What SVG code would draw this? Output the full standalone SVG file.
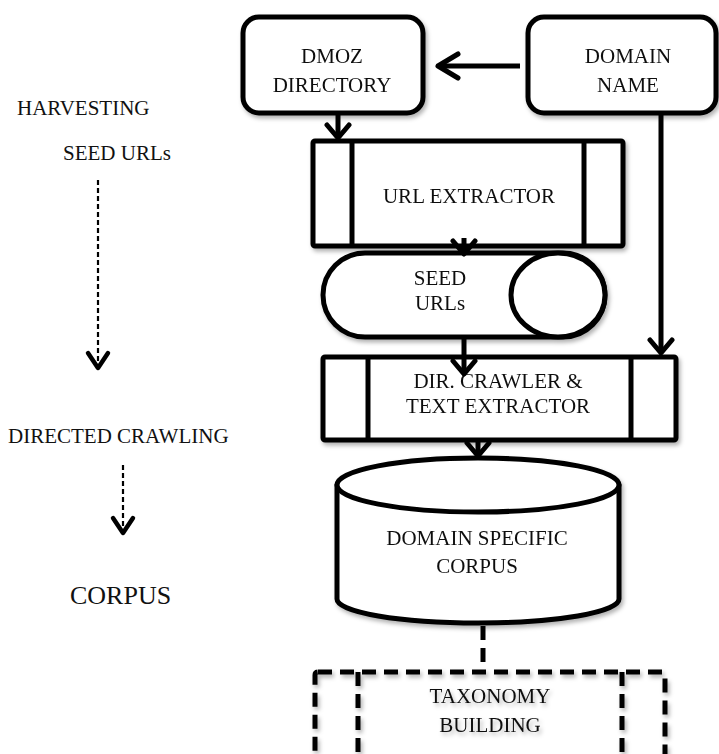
<svg xmlns="http://www.w3.org/2000/svg" width="719" height="754" viewBox="0 0 719 754" font-family="'Liberation Serif', 'DejaVu Serif', serif">
<defs>
<filter id="sh" x="-10%" y="-10%" width="120%" height="130%">
<feDropShadow dx="2" dy="3" stdDeviation="2" flood-color="#000" flood-opacity="0.3"/>
</filter>
<marker id="ah" markerUnits="userSpaceOnUse" viewBox="-20 -14 24 28" markerWidth="24" markerHeight="28" refX="0" refY="0" orient="auto">
<path d="M-13,-11 L0,0 L-13,11" fill="none" stroke="#000" stroke-width="5" stroke-linecap="round" stroke-linejoin="round"/>
</marker>
<marker id="ahb" markerUnits="userSpaceOnUse" viewBox="-26 -16 30 32" markerWidth="30" markerHeight="32" refX="0" refY="0" orient="auto">
<path d="M-20,-12 L0,0 L-20,12" fill="none" stroke="#000" stroke-width="5" stroke-linecap="round" stroke-linejoin="round"/>
</marker>
<marker id="ahs" markerUnits="userSpaceOnUse" viewBox="-20 -14 24 28" markerWidth="24" markerHeight="28" refX="0" refY="0" orient="auto">
<path d="M-15,-10 L0,0 L-15,10" fill="none" stroke="#000" stroke-width="4.5" stroke-linecap="round" stroke-linejoin="round"/>
</marker>
</defs>
<style>
text{font-family:'Liberation Serif','DejaVu Serif',serif;fill:#111;font-size:21px;text-anchor:middle}
.l{text-anchor:start}
.box{fill:#fff;stroke:#000;stroke-width:5;stroke-linejoin:round}
.ln{fill:none;stroke:#000;stroke-width:5}
.dash{fill:none;stroke:#000;stroke-width:5;stroke-dasharray:14 8}
.thin{fill:none;stroke:#000;stroke-width:2.2;stroke-dasharray:5 3}
</style>
<rect width="719" height="754" fill="#fff"/>

<g id="labels">
<text class="l" x="17" y="115">HARVESTING</text>
<text class="l" x="63" y="160">SEED URLs</text>
<text class="l" x="8" y="443">DIRECTED CRAWLING</text>
<text class="l" x="70" y="604" style="font-size:26px">CORPUS</text>
</g>

<g id="dmoz" filter="url(#sh)">
<rect class="box" x="243" y="17" width="180" height="96" rx="16"/>
<text x="332" y="63">DMOZ</text>
<text x="332" y="92">DIRECTORY</text>
</g>

<g id="domain" filter="url(#sh)">
<rect class="box" x="528" y="17" width="188" height="96" rx="16"/>
<text x="628" y="63">DOMAIN</text>
<text x="628" y="92">NAME</text>
</g>

<g id="url-extractor" filter="url(#sh)">
<rect class="box" x="313" y="141" width="310" height="105" rx="2"/>
<line class="ln" x1="352" y1="141" x2="352" y2="246"/>
<line class="ln" x1="584" y1="141" x2="584" y2="246"/>
<text x="469" y="203">URL EXTRACTOR</text>
</g>

<g id="seed-urls" filter="url(#sh)">
<rect class="box" x="323" y="253" width="282" height="84" rx="42"/>
<ellipse class="box" cx="558" cy="295" rx="47" ry="42"/>
<text x="440" y="285">SEED</text>
<text x="440" y="310">URLs</text>
</g>

<g id="crawler" filter="url(#sh)">
<rect class="box" x="323" y="357" width="353" height="83" rx="2"/>
<line class="ln" x1="368" y1="357" x2="368" y2="440"/>
<line class="ln" x1="631" y1="357" x2="631" y2="440"/>
<text x="498" y="388">DIR. CRAWLER &amp;</text>
<text x="498" y="413">TEXT EXTRACTOR</text>
</g>

<g id="corpus" filter="url(#sh)">
<path class="box" d="M337,485 L337,599 A141,24 0 0 0 619,599 L619,485 Z"/>
<ellipse class="box" cx="478" cy="485" rx="141" ry="27"/>
<text x="477" y="545">DOMAIN SPECIFIC</text>
<text x="477" y="573">CORPUS</text>
</g>

<g id="taxonomy" filter="url(#sh)">
<rect class="dash" x="315" y="672" width="350" height="100" rx="3" fill="#fff"/>
<line class="dash" x1="358" y1="672" x2="358" y2="754"/>
<line class="dash" x1="622" y1="672" x2="622" y2="754"/>
<text x="490" y="703">TAXONOMY</text>
<text x="490" y="732">BUILDING</text>
</g>

<g id="connectors">
<line class="ln" x1="520" y1="66" x2="438" y2="66" marker-end="url(#ahb)"/>
<line class="ln" x1="338" y1="113" x2="338" y2="138" marker-end="url(#ah)"/>
<line class="ln" x1="661" y1="113" x2="661" y2="353" marker-end="url(#ah)"/>
<line class="ln" x1="464" y1="238" x2="464" y2="254" marker-end="url(#ah)"/>
<line class="ln" x1="464" y1="337" x2="464" y2="374" marker-end="url(#ah)"/>
<line class="ln" x1="478" y1="438" x2="478" y2="456" marker-end="url(#ah)"/>
<line class="dash" x1="483" y1="626" x2="483" y2="670"/>
<line class="thin" x1="98" y1="180" x2="98" y2="368" marker-end="url(#ahs)"/>
<line class="thin" x1="123" y1="465" x2="123" y2="533" marker-end="url(#ahs)"/>
</g>
</svg>
